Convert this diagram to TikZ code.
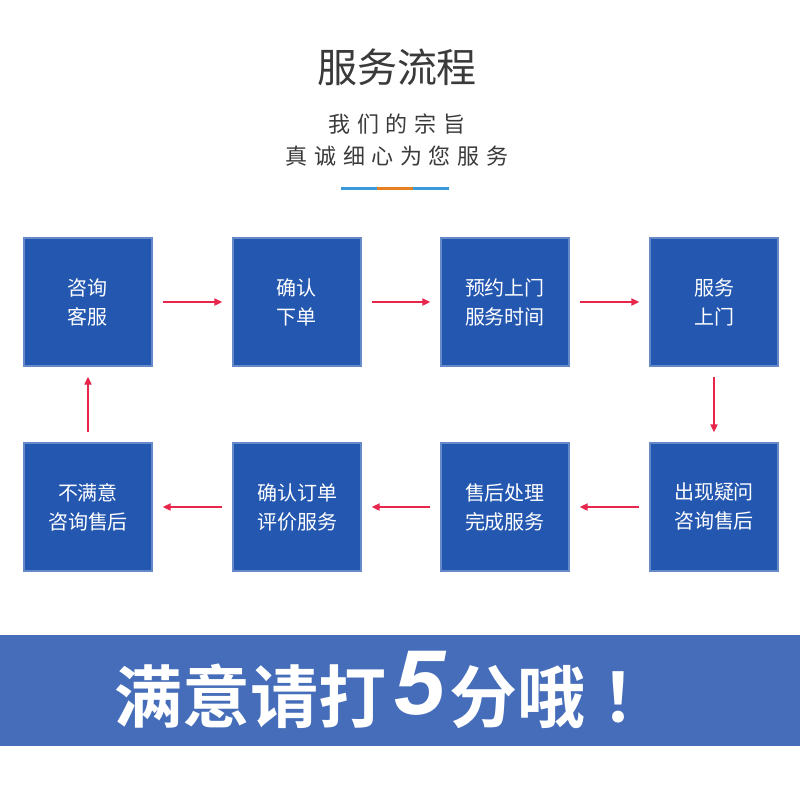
\documentclass[tikz,border=0pt]{standalone}
\usepackage{fontspec}
\usepackage{tikz}
\usetikzlibrary{arrows.meta,positioning}
\newfontfamily\cjk{Noto Sans CJK SC}
\newfontfamily\cjkspaced[LetterSpace=30]{Noto Sans CJK SC}
\newfontfamily\cjkbold{Noto Sans CJK SC Bold}
\newfontfamily\numfont{Liberation Sans Bold Italic}
\definecolor{boxblue}{HTML}{2457B0}
\definecolor{bandblue}{HTML}{456DB9}
\definecolor{arrowred}{HTML}{E8264C}
\definecolor{titlegray}{HTML}{3A3A3A}
\definecolor{barblue}{HTML}{3A9BDC}
\definecolor{barorange}{HTML}{E67E22}
\tikzset{stepbox/.style={rectangle,fill=boxblue,draw=boxblue!70!white,
  minimum width=64pt,minimum height=64pt,text=white,align=center,
  font=\cjk\fontsize{10}{14.5}\selectfont}}

\begin{document}
\begin{tikzpicture}
[x=0.5pt,y=-0.5pt,
-{Triangle[length=4pt,width=3.6pt]},arrowred,line width=0.7pt,
shorten <=5pt,shorten >=5pt]
\fill[white] (0,0) rectangle (800,800);
\useasboundingbox (0,0) rectangle (800,800);

% title
\node (t) at (397,67) [text=titlegray,font=\cjk\fontsize{20}{20}\selectfont] {服务流程};
\node (sub) at (397,140) [text=titlegray,align=center,
  font=\cjkspaced\fontsize{11}{16}\selectfont] {我们的宗旨\\真诚细心为您服务};
\draw[-,shorten <=0pt,shorten >=0pt,line width=1.5pt,barblue] (341,188) -- (377,188);
\draw[-,shorten <=0pt,shorten >=0pt,line width=1.5pt,barorange] (377,188) -- (413,188);
\draw[-,shorten <=0pt,shorten >=0pt,line width=1.5pt,barblue] (413,188) -- (449,188);

% steps
\node (s1) at (88,302) [stepbox] {咨询\\客服};
\node (s2) at (297,302) [stepbox] {确认\\下单};
\node (s3) at (505,302) [stepbox] {预约上门\\服务时间};
\node (s4) at (714,302) [stepbox] {服务\\上门};
\node (s5) at (714,507) [stepbox] {出现疑问\\咨询售后};
\node (s6) at (505,507) [stepbox] {售后处理\\完成服务};
\node (s7) at (297,507) [stepbox] {确认订单\\评价服务};
\node (s8) at (88,507) [stepbox] {不满意\\咨询售后};

\draw (s1) edge (s2);
\draw (s2) edge (s3);
\draw (s3) edge (s4);
\draw (s4) edge (s5);
\draw (s5) edge (s6);
\draw (s6) edge (s7);
\draw (s7) edge (s8);
\draw (s8) edge (s1);

% banner
\fill[bandblue] (0,635) rectangle (800,746);
\node (b) at (114,722) [anchor=base west,inner sep=0pt,text=white,
  font=\cjkbold\fontsize{34}{34}\selectfont]
  {满意请打\hspace{4pt}\raisebox{4pt}{\numfont\fontsize{46}{46}\selectfont 5}\hspace{2pt}分哦\hspace{8pt}！};
\end{tikzpicture}
\end{document}
